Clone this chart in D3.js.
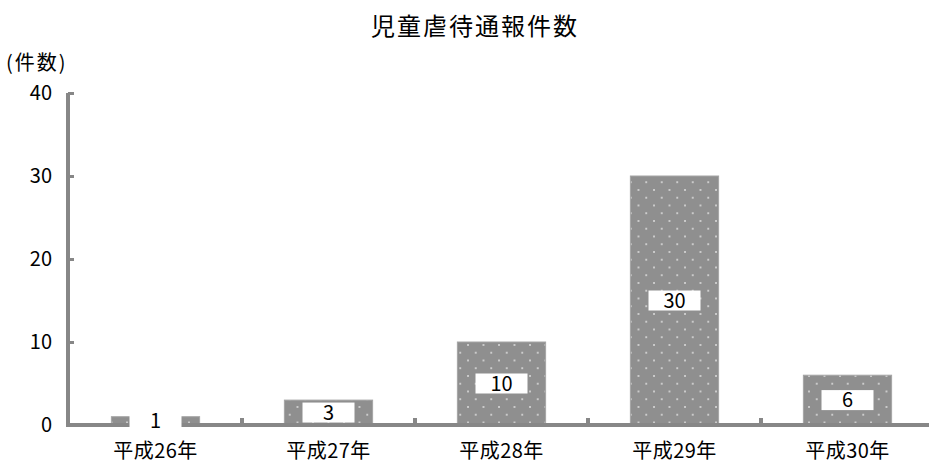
<!DOCTYPE html>
<html><head><meta charset="utf-8">
<script src="https://cdn.jsdelivr.net/npm/d3@7"></script>
<style>body{margin:0;background:#fff}svg{display:block}text{font-family:"Noto Sans CJK JP","Noto Sans",sans-serif}</style>
</head><body><svg id="c" width="929" height="464"></svg>
<script>
const categories = ["平成26年","平成27年","平成28年","平成29年","平成30年"];
const values = [1,3,10,30,6];
const yTicks = [0,10,20,30,40];
const title = "児童虐待通報件数";
const yUnit = "(件数)";

const svg = d3.select("#c");
const defs = svg.append("defs");
const pat = defs.append("pattern").attr("id","dots").attr("patternUnits","userSpaceOnUse")
  .attr("width",15.5).attr("height",15.5).attr("x",2).attr("y",3);
pat.append("rect").attr("width",15.5).attr("height",15.5).attr("fill","#8f8f8f");
pat.append("circle").attr("cx",1).attr("cy",1).attr("r",0.9).attr("fill","#e6e6e6");
pat.append("circle").attr("cx",8.75).attr("cy",8.75).attr("r",0.9).attr("fill","#e6e6e6");

const x = d3.scaleBand().domain(categories).range([69,934]).paddingInner(0.49).paddingOuter(0.245);
const y = d3.scaleLinear().domain([0,40]).range([425,93]);

svg.append("text").attr("x",475).attr("y",35).attr("text-anchor","middle")
  .attr("font-size",24).attr("letter-spacing",2).attr("fill","#000").text(title);
svg.append("text").attr("x",6).attr("y",70).attr("font-size",20).attr("letter-spacing",2).attr("fill","#000").text(yUnit);

// bars
svg.selectAll("rect.bar").data(values).join("rect").attr("class","bar")
  .attr("x",(d,i)=>x(categories[i])).attr("width",x.bandwidth())
  .attr("y",d=>y(d)).attr("height",d=>y(0)-y(d))
  .attr("fill","url(#dots)").attr("stroke","#a5a5a5").attr("stroke-width",1);

// axes
const yAxis = d3.axisRight(y).tickValues(yTicks).tickSize(6).tickFormat("");
const gy = svg.append("g").attr("transform","translate(68,0)").call(yAxis);
gy.select(".domain").attr("stroke","#878787").attr("stroke-width",4).attr("d","M0,93V427");
gy.selectAll(".tick line").attr("stroke","#878787").attr("stroke-width",3);
svg.selectAll("text.ytl").data(yTicks).join("text").attr("class","ytl")
  .attr("x",52).attr("y",d=>y(d)+7).attr("text-anchor","end").attr("font-size",20).attr("fill","#000").text(d=>d);

const xEdges = d3.range(1,categories.length).map(i=>x(categories[i]) - x.step()*x.paddingInner()/2);
const gx = svg.append("g");
gx.append("line").attr("x1",66).attr("x2",929).attr("y1",425).attr("y2",425).attr("stroke","#878787").attr("stroke-width",4);
gx.selectAll("line.xt").data(xEdges).join("line").attr("class","xt")
  .attr("x1",d=>d).attr("x2",d=>d).attr("y1",423).attr("y2",418).attr("stroke","#878787").attr("stroke-width",4);
svg.selectAll("text.xtl").data(categories).join("text").attr("class","xtl")
  .attr("x",d=>x(d)+x.bandwidth()/2).attr("y",458).attr("text-anchor","middle").attr("font-size",20).attr("letter-spacing",0.5).attr("fill","#000").text(d=>d);

// data labels
const lg = svg.selectAll("g.lbl").data(values).join("g").attr("class","lbl")
  .attr("transform",(d,i)=>`translate(${x(categories[i])+x.bandwidth()/2},${(y(d)+y(0))/2})`);
lg.append("rect").attr("x",-26).attr("y",-10).attr("width",52).attr("height",20).attr("fill","#fff");
lg.append("text").attr("y",7).attr("text-anchor","middle").attr("font-size",20).attr("fill","#000").text(d=>d);
</script></body></html>
